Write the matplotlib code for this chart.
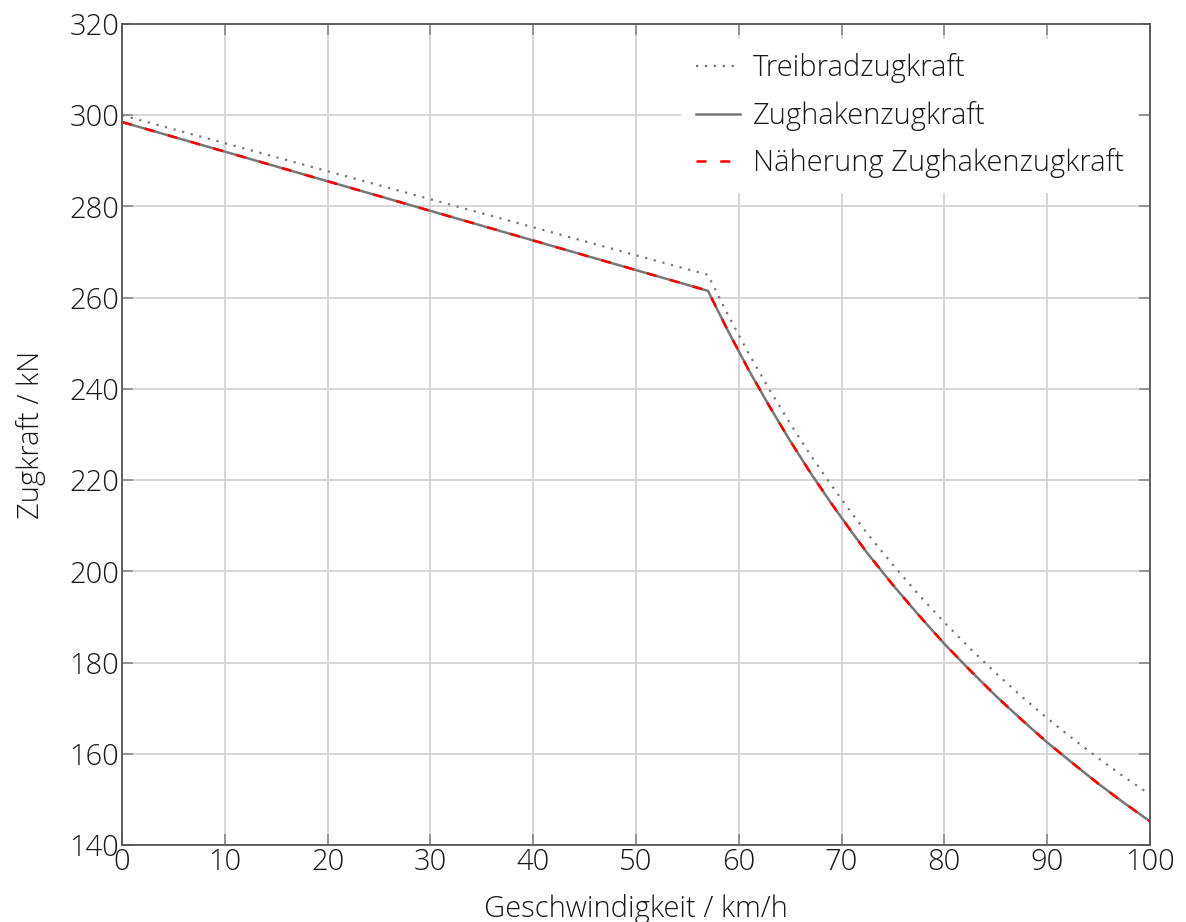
import matplotlib
matplotlib.use("Agg")
import matplotlib.pyplot as plt
from matplotlib import font_manager

# values
v_treib = [0, 57, 59, 61, 63, 65, 67, 69, 71, 72.5, 75, 77.5, 80, 82.5, 85,
           87.5, 90, 92.5, 95, 97.5, 100]
f_treib = [300.0, 265.0, 256.0, 247.6, 239.8, 232.4, 225.4, 218.9, 212.7,
           208.3, 201.4, 194.9, 188.8, 183.1, 177.7, 172.6, 167.8, 163.3,
           159.0, 154.9, 151.1]

v_haken = [0, 57, 59, 61, 63, 65, 67, 69, 71, 72.5, 75, 77.5, 80, 82.5, 85,
           87.5, 90, 92.5, 95, 97.5, 100]
f_haken = [298.5, 261.5, 252.5, 244.0, 236.1, 228.6, 221.5, 214.9, 208.6,
           204.0, 197.0, 190.4, 184.1, 178.3, 172.7, 167.5, 162.5, 157.9,
           153.4, 149.2, 145.2]

v_naeh = [0, 57, 59, 61, 63, 65, 67, 69, 71, 72.5, 75, 77.5, 80, 82.5, 85,
          87.5, 90, 92.5, 95, 97.5, 100]
f_naeh = [298.5, 261.5, 252.5, 244.0, 236.1, 228.6, 221.5, 214.9, 208.6,
          204.0, 197.0, 190.4, 184.1, 178.3, 172.7, 167.5, 162.5, 157.9,
          153.4, 149.2, 145.2]

names = {f.name for f in font_manager.fontManager.ttflist}
plt.rcParams["font.family"] = ["Open Sans", "DejaVu Sans"] if "Open Sans" in names else ["DejaVu Sans"]
plt.rcParams["font.weight"] = "light"
plt.rcParams["axes.labelweight"] = "light"
plt.rcParams["font.size"] = 21

fig = plt.figure(figsize=(11.86, 9.22), dpi=100)
ax = fig.add_axes([0.1029, 0.0835, 0.8667, 0.8905])

ax.plot(v_treib, f_treib, color="#777777", lw=1.6, ls=(0, (1, 3)), label="Treibradzugkraft")
ax.plot(v_haken, f_haken, color="#777777", lw=1.8, label="Zughakenzugkraft")
ax.plot(v_naeh, f_naeh, color="#ff0000", lw=1.8, ls=(0, (4, 5.5)), label="Näherung Zughakenzugkraft")

ax.set_xlim(0, 100)
ax.set_ylim(140, 320)
ax.set_xticks(range(0, 101, 10))
ax.set_yticks(range(140, 321, 20))
ax.grid(True, color="#d0d0d0", lw=1.2)
ax.set_axisbelow(True)
ax.tick_params(direction="in", length=8, width=1.2, color="#888888",
               top=True, right=True, labelcolor="#1a1a1a", pad=2)
for s in ax.spines.values():
    s.set_color("#555555")
    s.set_linewidth(1.3)

ax.set_xlabel("Geschwindigkeit / km/h", color="#1a1a1a", fontweight="light", labelpad=12)
ax.set_ylabel("Zugkraft / kN", color="#1a1a1a", fontweight="light", labelpad=17)

leg = ax.legend(loc="upper right", frameon=True, fancybox=False, edgecolor="none",
                facecolor="white", framealpha=1, handlelength=1.5, handletextpad=0.45,
                labelspacing=0.6, borderpad=0.5, bbox_to_anchor=(1.003, 1.0))
for t in leg.get_texts():
    t.set_color("#1a1a1a")

fig.savefig("out.png", dpi=100, facecolor="white")
